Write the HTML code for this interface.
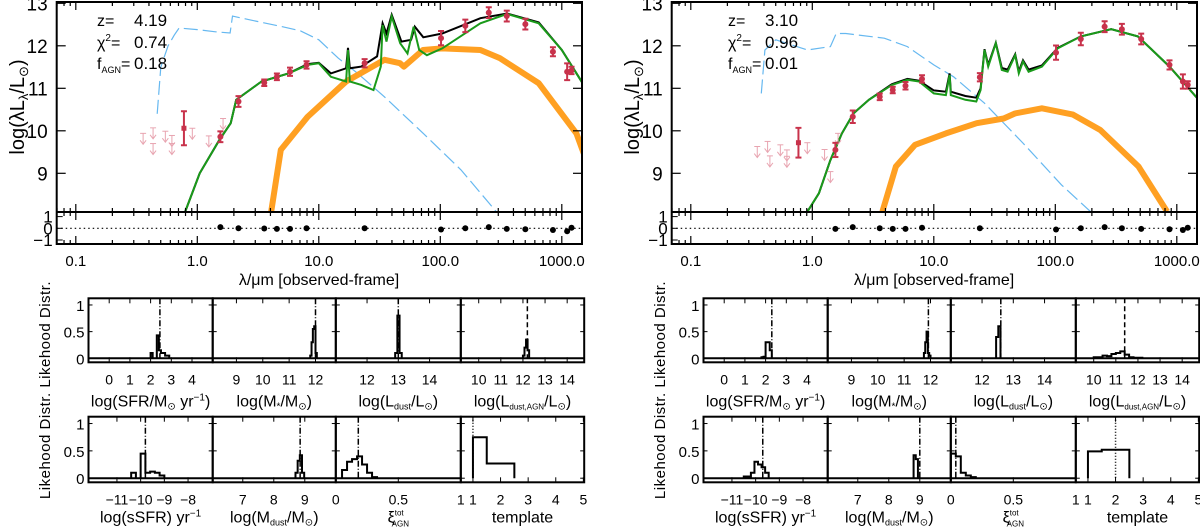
<!DOCTYPE html>
<html><head><meta charset="utf-8"><style>
html,body{margin:0;padding:0;background:#fff;}
svg{display:block;font-family:"Liberation Sans",sans-serif;}
</style></head><body>
<svg id="fig" width="1200" height="527" viewBox="0 0 1200 527" xmlns="http://www.w3.org/2000/svg"></svg>
<script>
// ===== Data: left source (z=4.19) =====
const L_blue = [[-0.33,10.4],[-0.3,11.5],[-0.24,12.0],[-0.19,12.25],[-0.15,12.42],[0.0,12.38],[0.15,12.33],[0.27,12.3],[0.29,12.7],[0.45,12.6],[0.7,12.45],[0.85,12.35],[1.0,12.14],[1.16,11.71],[1.32,11.35],[1.54,10.8],[1.86,9.94],[2.17,9.08],[2.46,8.1]];
const L_green = [[-0.1,8.1],[0.02,9.0],[0.18,9.78],[0.275,10.18],[0.32,10.73],[0.528,11.16],[0.75,11.35],[0.908,11.55],[1.0,11.59],[1.1,11.27],[1.225,11.16],[1.24,11.9],[1.255,11.16],[1.35,11.08],[1.45,10.96],[1.51,11.51],[1.525,12.49],[1.557,12.1],[1.6,12.69],[1.67,12.06],[1.73,11.82],[1.78,12.45],[1.826,11.9],[1.89,11.78],[2.016,11.94],[2.33,12.53],[2.55,12.75],[2.81,12.53],[3.0,11.9],[3.18,11.08]];
const L_black = [[-0.1,8.1],[0.02,9.0],[0.18,9.78],[0.275,10.18],[0.32,10.73],[0.528,11.16],[0.75,11.35],[0.908,11.57],[1.0,11.6],[1.1,11.35],[1.225,11.47],[1.24,11.95],[1.255,11.47],[1.35,11.51],[1.48,11.75],[1.525,12.53],[1.557,12.29],[1.6,12.73],[1.68,12.1],[1.76,12.14],[1.79,12.45],[1.86,12.2],[2.016,12.29],[2.33,12.65],[2.55,12.76],[2.81,12.55],[3.0,11.9],[3.18,11.08]];
const L_orange = [[0.608,8.1],[0.687,9.55],[0.908,10.33],[1.225,11.16],[1.541,11.67],[1.668,11.59],[1.70,11.51],[1.858,11.9],[2.016,11.94],[2.33,11.9],[2.49,11.71],[2.81,11.12],[3.12,9.94],[3.18,9.47]];
const L_ptX = [0.19,0.339,0.551,0.655,0.763,0.899,1.377,2.006,2.206,2.399,2.547,2.70,2.927,3.044,3.08];
const L_ptY = [9.86,10.69,11.13,11.27,11.39,11.55,11.59,12.18,12.47,12.78,12.70,12.51,11.86,11.39,11.42];
const L_ptE = [0.08,0.08,0.03,0.03,0.05,0.04,0.05,0.12,0.1,0.08,0.08,0.08,0.06,0.15,0.04];
const L_res = [0.1,0.0,-0.02,-0.05,-0.05,0.0,0.0,-0.1,0.0,0.1,-0.05,-0.08,-0.15,-0.25,0.05];
const L_bigX = [-0.11], L_bigY = [10.06], L_bigE = [0.4];
const L_ulX = [-0.446,-0.364,-0.364,-0.263,-0.209,-0.209,-0.041,0.095,0.212];
const L_ulY = [9.94,10.07,9.7,9.99,9.89,9.7,10.06,9.88,10.29];
// ===== Data: right source (z=3.10) =====
const R_blue = [[-0.42,10.88],[-0.39,11.9],[-0.3,12.14],[-0.04,11.9],[0.149,11.98],[0.197,12.29],[0.276,12.29],[0.593,12.18],[0.783,11.98],[1.0,11.55],[1.163,11.27],[1.417,10.65],[1.734,9.71],[2.05,8.73],[2.29,8.1]];
const R_green = [[-0.04,8.1],[0.054,8.53],[0.149,9.31],[0.244,9.94],[0.339,10.41],[0.466,10.73],[0.656,11.08],[0.783,11.2],[0.878,11.16],[1.0,10.88],[1.1,10.84],[1.13,11.31],[1.14,10.84],[1.26,10.73],[1.35,10.69],[1.385,10.96],[1.417,11.9],[1.448,11.51],[1.51,12.06],[1.56,11.43],[1.607,11.39],[1.67,11.78],[1.70,11.35],[1.734,11.63],[1.78,11.39],[1.89,11.51],[2.02,11.94],[2.21,12.22],[2.46,12.39],[2.68,12.22],[2.94,11.51],[3.18,10.73]];
const R_black = [[-0.04,8.1],[0.054,8.53],[0.149,9.31],[0.244,9.94],[0.339,10.41],[0.466,10.73],[0.656,11.1],[0.783,11.22],[0.878,11.18],[1.0,10.95],[1.1,10.92],[1.13,11.35],[1.14,10.92],[1.26,10.82],[1.35,10.78],[1.385,11.0],[1.417,11.92],[1.448,11.55],[1.51,12.07],[1.56,11.48],[1.607,11.44],[1.67,11.8],[1.70,11.4],[1.734,11.66],[1.78,11.44],[1.89,11.54],[2.02,11.95],[2.21,12.22],[2.46,12.39],[2.68,12.22],[2.94,11.51],[3.18,10.73]];
const R_orange = [[0.577,8.1],[0.688,9.16],[0.846,9.67],[1.1,9.94],[1.353,10.18],[1.575,10.29],[1.67,10.41],[1.89,10.53],[2.146,10.38],[2.37,10.02],[2.685,9.16],[2.92,8.1]];
const R_ptX = [0.19,0.333,0.555,0.662,0.767,0.903,1.379,2.006,2.21,2.406,2.548,2.707,2.94,3.05,3.09];
const R_ptY = [9.55,10.33,10.8,10.96,11.06,11.22,11.26,11.84,12.16,12.45,12.39,12.16,11.55,11.16,11.08];
const R_ptE = [0.12,0.1,0.03,0.03,0.04,0.04,0.05,0.12,0.1,0.08,0.08,0.08,0.06,0.12,0.04];
const R_res = [-0.05,0.1,0.0,-0.05,-0.05,0.05,0.0,-0.1,0.0,0.1,0.0,-0.05,-0.08,-0.15,0.05];
const R_bigX = [-0.114], R_bigY = [9.72], R_bigE = [0.35];
const R_ulX = [-0.453,-0.368,-0.349,-0.263,-0.209,-0.209,-0.041,0.101,0.149,0.212];
const R_ulY = [9.63,9.75,9.41,9.67,9.55,9.4,9.72,9.56,9.04,9.94];
// ===== Histogram data =====
const histNames = ["sfr","mstar","ldust","lagn","ssfr","mdust","xi","template"];
const L_hStart = [2.0,11.8,12.9,12.0,-10.4,8.7,0.05,1.0];
const L_hWidth = [0.1,0.05,0.07,0.07,0.2,0.07,0.04,0.5];
const L_hVals = [[0.1,0,0,0.43,0.15,0.1,0.1,0.05,0.05],[0.05,0.3,0.55,0.6,0.1],[0.1,0.8,0.1],[0.05,0.2,0.35,0.15],[0.1,0,0.45,0.1,0.12,0.1,0.05],[0.1,0.32,0.42,0.1],[0.15,0.3,0.35,0.4,0.25,0.1,0.02],[0.75,0.27,0.27]];
const L_hLine = [2.45,12.0,13.0,12.2,-9.8,8.85,0.18,1.0];
const R_hStart = [1.8,11.75,12.45,10.0,-10.5,8.8,0.0,1.0];
const R_hWidth = [0.1,0.05,0.07,0.2,0.15,0.07,0.04,0.5];
const R_hVals = [[0.02,0.03,0.3,0.3,0.15,0],[0.1,0.3,0.5,0.1,0.05],[0.4,0.6],[0.02,0.02,0.05,0.04,0.08,0.1,0.13,0.07,0.02,0.01,0.01],[0.03,0.03,0.1,0.3,0.25,0.2,0.1],[0.42,0.35],[0.45,0.4,0.1,0.05,0.02],[0.49,0.52,0.52]];
const R_hLine = [2.3,11.92,12.6,11.4,-9.7,9.0,0.04,2.0];
// ===== Layout =====
const NS="http://www.w3.org/2000/svg";
const svg=document.getElementById('fig');
function mk(tag,attrs,parent){const e=document.createElementNS(NS,tag);for(const k in attrs)e.setAttribute(k,attrs[k]);(parent||svg).appendChild(e);return e;}
const RED="#c8324b", PINK="#e8a4b0";
const hRanges=[[-1,5],[8.1,12.77],[11,15],[9.19,14.77],[-12.2,-6.96],[6.03,10],[0,1],[0.56,5.03]];
const hTicks=[[0,1,2,3,4],[9,10,11,12],[12,13,14],[10,11,12,13,14],[-11,-10,-9,-8],[7,8,9],[0,0.5],[1,2,3,4,5]];
const hTickTxt=[["0","1","2","3","4"],["9","10","11","12"],["12","13","14"],["10","11","12","13","14"],["−11","−10","−9","−8"],["7","8","9"],["0","0.5"],["1","2","3","4","5"]];
const hLineStyle=["6,2,1,2","6,2,1,2","6,2,1,2","5,3","6,2,1,2","6,2,1,2","6,2,1,2","1,2"];
const hLabels=[
 'log(SFR/M<tspan font-size="10" dy="3">⊙</tspan><tspan dy="-3"> yr</tspan><tspan font-size="10" dy="-6">−1</tspan><tspan dy="6">)</tspan>',
 'log(M<tspan font-size="10" dy="3">*</tspan><tspan dy="-3">/M</tspan><tspan font-size="10" dy="3">⊙</tspan><tspan dy="-3">)</tspan>',
 'log(L<tspan font-size="9" dy="3">dust</tspan><tspan dy="-3">/L</tspan><tspan font-size="10" dy="3">⊙</tspan><tspan dy="-3">)</tspan>',
 'log(L<tspan font-size="8" dy="3">dust,AGN</tspan><tspan dy="-3">/L</tspan><tspan font-size="10" dy="3">⊙</tspan><tspan dy="-3">)</tspan>',
 'log(sSFR) yr<tspan font-size="10" dy="-6">−1</tspan>',
 'log(M<tspan font-size="9" dy="3">dust</tspan><tspan dy="-3">/M</tspan><tspan font-size="10" dy="3">⊙</tspan><tspan dy="-3">)</tspan>',
 'ξ<tspan font-size="8" dy="-7">tot</tspan><tspan font-size="8" dx="-12" dy="11">AGN</tspan>',
 'template'];

function drawHalf(ox,side,S){
  const g=mk('g',{});  
  const x0=56.7+ox,x1=582+ox,top=2,mb=212,rb=244;
  const xs=l=>75.8+ox+(l+1)*121.5;
  const ys=v=>173.3-(v-9)*42.5;
  const ry=r=>228.3-r*11.7;
  const cid='clip'+side;
  const cp=mk('clipPath',{id:cid},g); mk('rect',{x:x0,y:top,width:x1-x0,height:mb-top},cp);
  const pg=mk('g',{'clip-path':'url(#'+cid+')'},g);
  const line=(arr,attrs,name)=>{const p=mk('polyline',Object.assign({points:arr.map(d=>xs(d[0]).toFixed(1)+','+ys(d[1]).toFixed(1)).join(' '),fill:'none'},attrs),pg);};
  line(S.blue,{stroke:'#66b8f0','stroke-width':1.2,'stroke-dasharray':'14,5'},'stellar-unattenuated-line');
  line(S.orange,{stroke:'#ffa022','stroke-width':6,'stroke-linejoin':'round'},'agn-component-line');
  line(S.black,{stroke:'#000','stroke-width':2},'total-model-line');
  line(S.green,{stroke:'#1a9a1a','stroke-width':2},'galaxy-model-line');
  S.ulX.forEach((lx,i)=>{const x=xs(lx),y=ys(S.ulY[i]);const a=mk('g',{stroke:PINK,'stroke-width':1,fill:'none'},pg);
    
    mk('line',{x1:x-3,y1:y,x2:x+3,y2:y},a);mk('line',{x1:x,y1:y,x2:x,y2:y+11},a);mk('polyline',{points:`${x-3},${y+7} ${x},${y+11} ${x+3},${y+7}`},a);});
  S.bigX.forEach((lx,i)=>{const x=xs(lx);const b=mk('g',{stroke:RED,'stroke-width':2},pg);
    mk('line',{x1:x,y1:ys(S.bigY[i]+S.bigE[i]),x2:x,y2:ys(S.bigY[i]-S.bigE[i])},b);
    mk('line',{x1:x-3,y1:ys(S.bigY[i]+S.bigE[i]),x2:x+3,y2:ys(S.bigY[i]+S.bigE[i])},b);
    mk('line',{x1:x-3,y1:ys(S.bigY[i]-S.bigE[i]),x2:x+3,y2:ys(S.bigY[i]-S.bigE[i])},b);
    mk('rect',{x:x-2.5,y:ys(S.bigY[i])-2.5,width:5,height:5,fill:RED,stroke:'none'},b);});
  S.ptX.forEach((lx,i)=>{const x=xs(lx),y=ys(S.ptY[i]),e=S.ptE[i]*42.5+2;const b=mk('g',{stroke:RED,'stroke-width':2},pg);
    
    mk('line',{x1:x,y1:y-e,x2:x,y2:y+e},b);mk('line',{x1:x-3,y1:y-e,x2:x+3,y2:y-e},b);mk('line',{x1:x-3,y1:y+e,x2:x+3,y2:y+e},b);
    mk('circle',{cx:x,cy:y,r:3,fill:RED,stroke:'none'},b);});
  const rl=mk('line',{x1:x0,y1:ry(0),x2:x1,y2:ry(0),stroke:'#000','stroke-width':1.2,'stroke-dasharray':'1.5,3'},g);
  S.ptX.forEach((lx,i)=>{const c=mk('circle',{cx:xs(lx),cy:ry(S.res[i]),r:3,fill:'#000'},g);});
  mk('rect',{x:x0,y:top,width:x1-x0,height:rb-top,fill:'none',stroke:'#000','stroke-width':2},g);
  mk('line',{x1:x0,y1:mb,x2:x1,y2:mb,stroke:'#000','stroke-width':2},g);
  for(let d=-2;d<=3;d++)for(let m=1;m<10;m++){const l=d+Math.log10(m);const x=xs(l);if(x<x0||x>x1)continue;const L=m===1?8:4;
    [[mb,-1],[top,1],[rb,-1],[mb,1]].forEach(([yy,s])=>mk('line',{x1:x,y1:yy,x2:x,y2:yy+s*L,stroke:'#000','stroke-width':1.2},g));}
  const xtl=['0.1','1.0','10.0','100.0','1000.0'];
  [-1,0,1,2,3].forEach((l,i)=>{const t=mk('text',{x:xs(l),y:266,'font-size':15,'text-anchor':'middle'},g);t.textContent=xtl[i];});
  const xt=mk('text',{x:319+ox,y:285,'font-size':16,'text-anchor':'middle'},g);xt.textContent='λ/μm [observed-frame]';
  [9,10,11,12,13].forEach(v=>{const y=ys(v);mk('line',{x1:x0,y1:y,x2:x0+9,y2:y,stroke:'#000','stroke-width':1.2},g);mk('line',{x1:x1,y1:y,x2:x1-9,y2:y,stroke:'#000','stroke-width':1.2},g);
    const t=mk('text',{x:x0-9,y:y+7,'font-size':19,'text-anchor':'end'},g);t.textContent=v;});
  [[1,'1'],[0,'0'],[-1,'−1']].forEach(([v,s])=>{const y=ry(v);mk('line',{x1:x0,y1:y,x2:x0+6,y2:y,stroke:'#000'},g);
    const t=mk('text',{x:x0-4,y:y+6,'font-size':17,'text-anchor':'end'},g);t.textContent=s;});
  const yt=mk('text',{transform:`translate(${24+ox},107) rotate(-90)`,'font-size':20,'text-anchor':'middle'},g);
  yt.innerHTML='log(λL<tspan font-size="13" dy="4">λ</tspan><tspan dy="-4">/L</tspan><tspan font-size="13" dy="4">⊙</tspan><tspan dy="-4">)</tspan>';
  
  const ann=[['z=',S.z,20],['χ<tspan font-size="10" dy="-7">2</tspan><tspan dy="7">=</tspan>',S.chi,42],['f<tspan font-size="9" dy="4">AGN</tspan><tspan dy="-4">=</tspan>',S.fagn,63]];
  ann.forEach(([lab,val,y],i)=>{const t=mk('text',{x:97+ox+(side==='right'?16:0),y:y+6,'font-size':16},g);t.innerHTML=lab;
    const v=mk('text',{x:134+ox+(side==='right'?16:0),y:y+6,'font-size':17},g);v.textContent=val;});
  const px=[88.5,212.7,335.8,460.8,584.2].map(v=>v+ox);
  const rows=[[298.3,362.3],[416.7,482.3]];
  const yl=mk('text',{transform:`translate(${50+ox},390) rotate(-90)`,'font-size':15,'text-anchor':'middle','letter-spacing':'0.5'},g);yl.textContent='Likehood Distr.          Likehood Distr.';
  
  for(let k=0;k<8;k++){
    const r=Math.floor(k/4),c=k%4;const hx0=px[c],hx1=px[c+1],[ht,hb]=rows[r];
    const hg=mk('g',{},g);
    const [a,b]=hRanges[k];const hxs=v=>hx0+(v-a)/(b-a)*(hx1-hx0);
    const hys=v=>hb-(v+0.075)/1.2*(hb-ht);
    mk('rect',{x:hx0,y:ht,width:hx1-hx0,height:hb-ht,fill:'none',stroke:'#000','stroke-width':2},hg);
    const vals=S.hVals[k],st=S.hStart[k],w=S.hWidth[k];
    let d=`M${hxs(st)},${hys(0)}`;vals.forEach((v,i)=>{d+=` L${hxs(st+i*w)},${hys(v)} L${hxs(st+(i+1)*w)},${hys(v)}`;});d+=` L${hxs(st+vals.length*w)},${hys(0)}`;
    if(histNames[k]!=='template'){d+=` M${hx0},${hys(0)} L${hx1},${hys(0)}`;}
    const p=mk('path',{d:d,fill:'none',stroke:'#000','stroke-width':2},hg);
    const bl=mk('line',{x1:hxs(S.hLine[k]),y1:ht,x2:hxs(S.hLine[k]),y2:hys(0),stroke:'#000','stroke-width':1.5,'stroke-dasharray':hLineStyle[k]},hg);
    hTicks[k].forEach((tv,i)=>{const x=hxs(tv);mk('line',{x1:x,y1:hb,x2:x,y2:hb-5,stroke:'#000'},hg);mk('line',{x1:x,y1:ht,x2:x,y2:ht+5,stroke:'#000'},hg);
      const t=mk('text',{x:x,y:hb+22,'font-size':14,'text-anchor':'middle'},hg);t.textContent=hTickTxt[k][i];});
    if(k===6){const t=mk('text',{x:hx1,y:hb+22,'font-size':14,'text-anchor':'middle'},hg);t.textContent='1';}
    [0,0.5,1].forEach(v=>{mk('line',{x1:hx0,y1:hys(v),x2:hx0+4,y2:hys(v),stroke:'#000'},hg);mk('line',{x1:hx1,y1:hys(v),x2:hx1-4,y2:hys(v),stroke:'#000'},hg);
      if(c===0){const t=mk('text',{x:hx0-4,y:hys(v)+6,'font-size':15,'text-anchor':'end'},hg);t.textContent=String(v);}});
    const lb=mk('text',{x:(hx0+hx1)/2,y:hb+(r===0?44:40),'font-size':16,'text-anchor':'middle'},hg);lb.innerHTML=hLabels[k];
  }
}
drawHalf(0,'left',{blue:L_blue,green:L_green,black:L_black,orange:L_orange,ptX:L_ptX,ptY:L_ptY,ptE:L_ptE,res:L_res,bigX:L_bigX,bigY:L_bigY,bigE:L_bigE,ulX:L_ulX,ulY:L_ulY,z:'4.19',chi:'0.74',fagn:'0.18',hStart:L_hStart,hWidth:L_hWidth,hVals:L_hVals,hLine:L_hLine});
drawHalf(615,'right',{blue:R_blue,green:R_green,black:R_black,orange:R_orange,ptX:R_ptX,ptY:R_ptY,ptE:R_ptE,res:R_res,bigX:R_bigX,bigY:R_bigY,bigE:R_bigE,ulX:R_ulX,ulY:R_ulY,z:'3.10',chi:'0.96',fagn:'0.01',hStart:R_hStart,hWidth:R_hWidth,hVals:R_hVals,hLine:R_hLine});
</script>
</body></html>
